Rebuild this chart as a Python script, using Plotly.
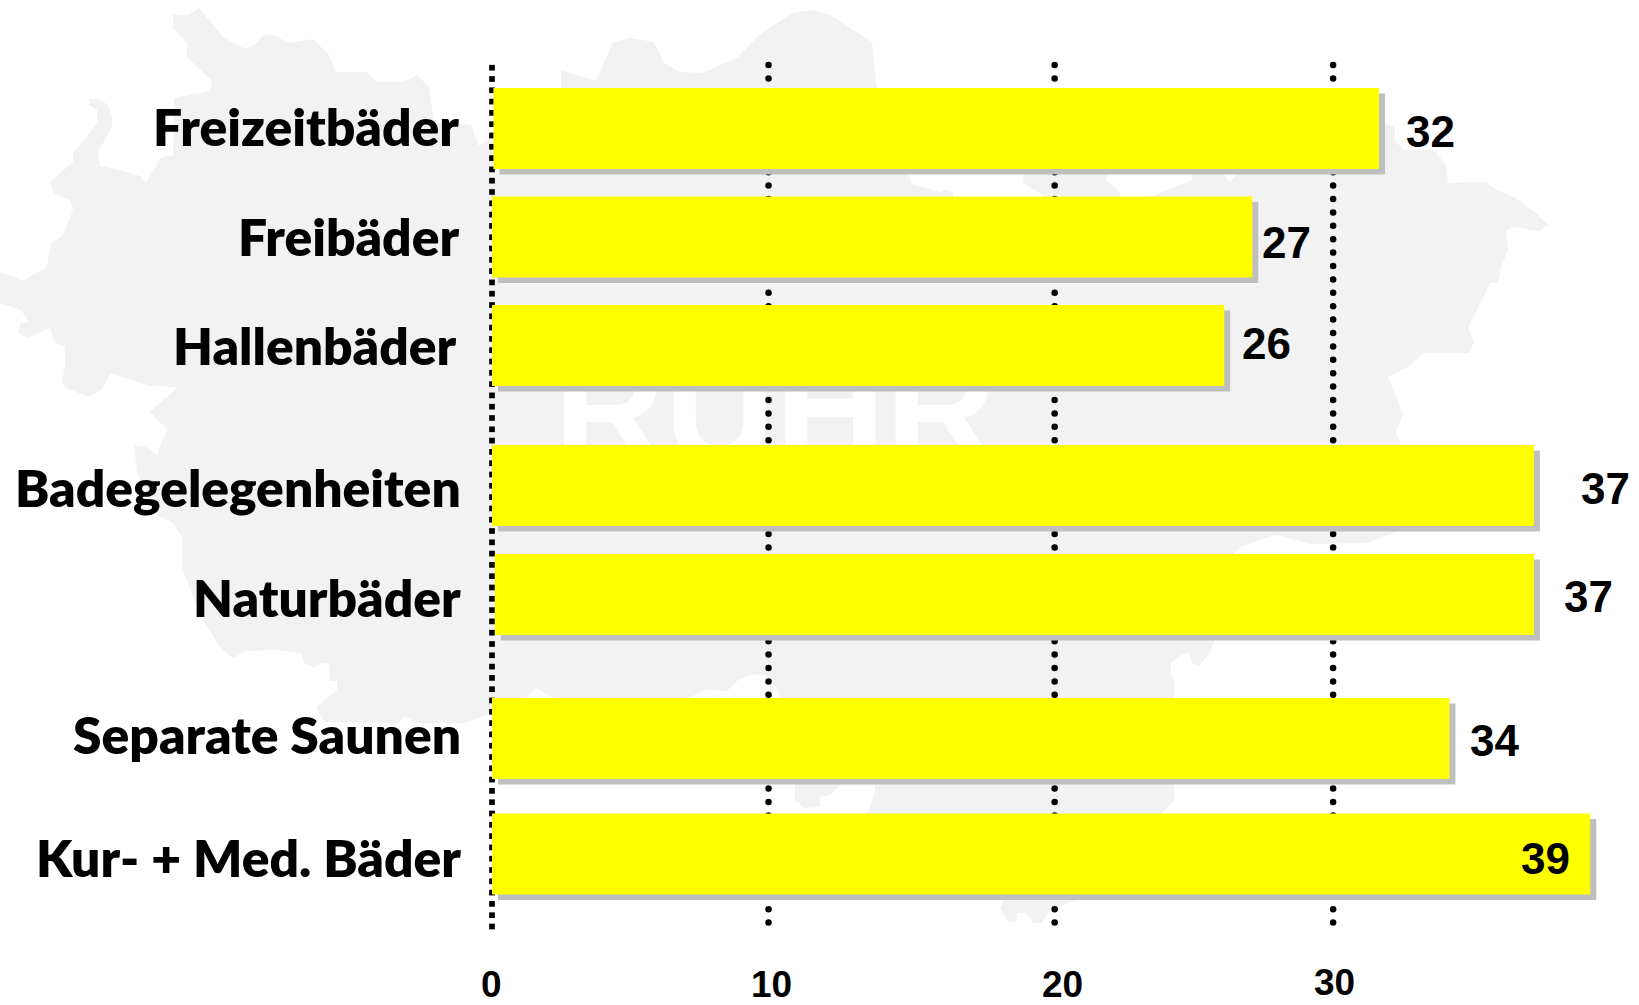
import numpy as np
import plotly.graph_objects as go

W, H = 1639, 1005
X0_PX, PX_PER_UNIT = 492.0, 28.16

# ---- data ----
categories = ["Freizeitbäder", "Freibäder", "Hallenbäder", "Badegelegenheiten",
              "Naturbäder", "Separate Saunen", "Kur- + Med. Bäder"]
bar_lengths = [31.45, 27, 26, 37, 36.9, 34, 39]
bar_bases = [0.05, 0, 0, 0, 0.1, 0, 0]
value_labels = ["32", "27", "26", "37", "37", "34", "39"]
axis_tick_labels = ["0", "10", "20", "30"]
grid_values = [9.82, 19.98, 29.87]

# ---- layout (pixel rows of the bars, text positions) ----
bar_rows = [128.5, 237, 345.5, 485.5, 594.5, 738.5, 854]
bar_height = 81
shadow_dx, shadow_dy = 6 / PX_PER_UNIT, 5.5
cat_right = [459, 459, 457, 461, 461, 461, 461]
cat_mid = [125.5, 235.5, 344.5, 486.5, 596.5, 734, 857]
val_x = [1430, 1286, 1266, 1605, 1588, 1494.5, 1545]
val_y = [131, 242.5, 343, 488, 596, 740, 858]
tick_x = [491.6, 771, 1062, 1334]
tick_y = [984, 984, 984, 982.5]

# ---- background map silhouette, in page pixels ----
map_outline = [
    (173,15),(188,15),(199,8),(224,38),(245,49),(256,44),(265,34),(276,36),(288,43),(313,39),
    (329,55),(336,72),(367,72),(376,82),(404,82),(417,75),(429,87),(434,122),(471,125),(479,146),
    (495,135),(561,88),(561,70),(596,81),(613,42),(631,38),(654,42),(664,63),(680,72),(703,73),
    (738,57),(759,35),(792,13),(813,10),(820,12),(830,15),(872,42),(876,83),(895,160),(909,174),
    (911,184),(941,192),(946,189),(953,193),(953,197),(1000,240),(1045,197),(1023,182),(1023,174),
    (1040,150),(1107,150),(1107,181),(1120,192),(1120,197),(1150,197),(1192,180),(1192,174),
    (1223,174),(1230,182),(1238,174),(1300,120),(1386,124),(1395,126),(1395,140),(1403,150),
    (1434,150),(1446,165),(1448,183),(1486,182),(1494,188),(1515,198),(1536,213),(1548,225),
    (1540,231),(1514,227),(1506,230),(1508,250),(1501,267),(1498,283),(1490,283),(1468,328),
    (1474,342),(1469,353),(1424,353),(1408,367),(1388,377),(1403,414),(1396,432),(1401,445),
    (1396,532),(1367,543),(1311,544),(1275,535),(1240,547),(1233,554),(1214,641),(1210,653),
    (1199,666),(1192,663),(1189,653),(1182,655),(1171,663),(1171,673),(1174,680),(1174,785),
    (1175,788),(1173,802),(1162,813),(1076,900),(1050,910),(1042,923),(1033,923),(1026,913),
    (1017,913),(1016,922),(1008,922),(1000,908),(1003,900),(1000,860),(867,814),(875,793),(875,785),
    (840,785),(830,795),(820,797),(820,807),(805,808),(795,800),(795,785),(779,700),(779,692),
    (769,677),(753,674),(738,680),(727,691),(705,690),(689,698),(554,698),(536,688),(526,698),
    (492,713),(465,723),(418,723),(405,716),(397,723),(324,722),(316,707),(337,690),(337,681),
    (330,681),(329,663),(322,663),(314,668),(304,663),(301,653),(277,650),(246,651),(233,658),
    (220,647),(201,617),(182,568),(182,537),(173,523),(157,515),(137,473),(134,445),(146,447),
    (157,455),(167,430),(150,412),(178,387),(150,386),(110,373),(102,390),(89,397),(66,388),
    (62,382),(65,365),(65,346),(55,343),(50,328),(27,338),(18,332),(21,323),(29,322),(21,310),
    (0,303),(0,273),(16,277),(22,281),(47,267),(51,243),(63,235),(73,210),(70,200),(54,193),
    (50,182),(73,162),(73,152),(86,138),(97,123),(97,110),(89,105),(89,99),(99,99),(108,105),
    (112,117),(112,127),(98,152),(100,166),(120,170),(140,176),(146,183),(160,158),(173,155),
    (174,98),(210,91),(212,81),(187,57),(187,43),(173,28),
]

def to_x(px):
    return (px - X0_PX) / PX_PER_UNIT

fig = go.Figure()

# lower axes: watermark lettering and dotted gridlines
fig.add_trace(go.Scatter(
    x=[to_x(775)], y=[424], mode="text", text=["RUHR"], textposition="middle center",
    textfont=dict(family="Liberation Sans", size=153, color="white", weight="bold"),
    hoverinfo="skip", showlegend=False, xaxis="x", yaxis="y"))

dot_rows = np.arange(65, 926, 13.4)
for g in grid_values:
    fig.add_trace(go.Scatter(
        x=[g] * len(dot_rows), y=dot_rows, mode="markers",
        marker=dict(symbol="circle", size=6.5, color="black"),
        hoverinfo="skip", showlegend=False, xaxis="x", yaxis="y"))
square_rows = np.arange(67.7, 930, 11.3)
fig.add_trace(go.Scatter(
    x=[0] * len(square_rows), y=square_rows, mode="markers",
    marker=dict(symbol="square", size=5.7, color="black"),
    hoverinfo="skip", showlegend=False, xaxis="x", yaxis="y"))

# upper axes: shadows then bars
fig.add_trace(go.Bar(
    x=bar_lengths, y=[r + shadow_dy for r in bar_rows],
    base=[b + shadow_dx for b in bar_bases], orientation="h", width=bar_height,
    marker=dict(color="#bfbfbf", line_width=0), hoverinfo="skip", showlegend=False,
    xaxis="x2", yaxis="y2"))
fig.add_trace(go.Bar(
    x=bar_lengths, y=bar_rows, base=bar_bases, orientation="h", width=bar_height,
    marker=dict(color="#ffff00", line_width=0), showlegend=False,
    xaxis="x2", yaxis="y2"))

annotations = []
for name, rx, my in zip(categories, cat_right, cat_mid):
    annotations.append(dict(
        x=to_x(rx), y=my, xref="x2", yref="y2", text=name, showarrow=False,
        xanchor="right", yanchor="middle", borderpad=0, borderwidth=0,
        font=dict(family="Lato", size=51.5, color="black", weight=800)))
for t, vx, vy in zip(value_labels, val_x, val_y):
    annotations.append(dict(
        x=to_x(vx), y=vy, xref="x2", yref="y2", text=f"<b>{t}</b>", showarrow=False,
        xanchor="center", yanchor="middle", borderpad=0, borderwidth=0,
        font=dict(family="Liberation Sans", size=44, color="black")))
for t, tx, ty in zip(axis_tick_labels, tick_x, tick_y):
    annotations.append(dict(
        x=to_x(tx), y=ty, xref="x2", yref="y2", text=f"<b>{t}</b>", showarrow=False,
        xanchor="center", yanchor="middle", borderpad=0, borderwidth=0,
        font=dict(family="Liberation Sans", size=37, color="black")))

xr = [to_x(0), to_x(W)]
yr = [H, 0]
hidden = dict(visible=False, showgrid=False, zeroline=False, fixedrange=True)
map_path = "M " + " L ".join(f"{x/W:.5f},{1 - y/H:.5f}" for x, y in map_outline) + " Z"

fig.update_layout(
    width=W, height=H, margin=dict(l=0, r=0, t=0, b=0),
    paper_bgcolor="white", plot_bgcolor="rgba(0,0,0,0)",
    barmode="overlay", showlegend=False,
    xaxis=dict(range=xr, domain=[0, 1], **hidden),
    yaxis=dict(range=yr, domain=[0, 1], **hidden),
    xaxis2=dict(range=xr, overlaying="x", **hidden),
    yaxis2=dict(range=yr, overlaying="y", **hidden),
    shapes=[dict(type="path", path=map_path, xref="paper", yref="paper", layer="below",
                 fillcolor="#f2f2f2", line=dict(width=0))],
    annotations=annotations,
)

fig.write_html("out.html", config={"displayModeBar": False},
               post_script="document.body.style.margin='0';document.documentElement.style.overflow='hidden';")
